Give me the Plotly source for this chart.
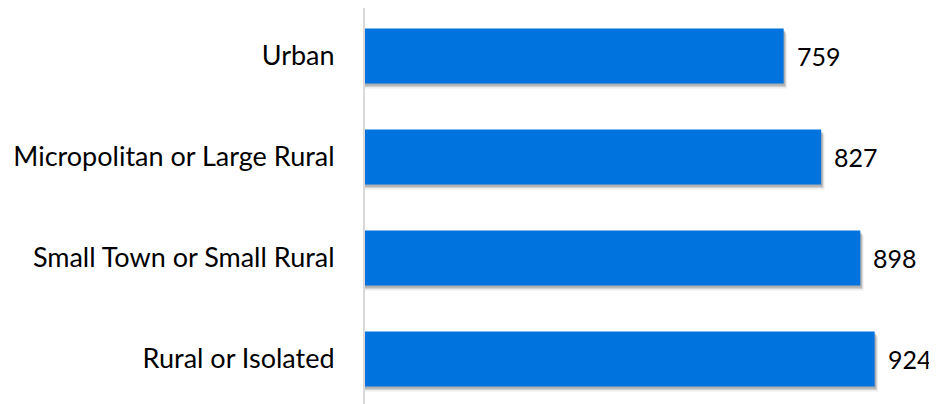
import plotly.graph_objects as go

categories = ["Urban", "Micropolitan or Large Rural", "Small Town or Small Rural", "Rural or Isolated"]
values = [759, 827, 898, 924]

BAR = "#0073DE"
FONT = "Lato"

cats = categories[::-1]
vals = values[::-1]

fig = go.Figure()
# soft shadow layers
for dx, dy, op in [(6, -0.05, 0.10), (4, -0.035, 0.18), (2.5, -0.022, 0.25)]:
    fig.add_trace(go.Bar(
        y=cats, x=[v + dx for v in vals], orientation="h",
        marker=dict(color=f"rgba(80,80,80,{op})", line=dict(width=0)),
        width=0.545, offset=-0.2725 + dy, hoverinfo="skip", showlegend=False,
    ))
fig.add_trace(go.Bar(
    y=cats, x=vals, orientation="h",
    marker=dict(color=BAR, line=dict(width=0)),
    width=0.545, offset=-0.2725, showlegend=False,
))

for c, v in zip(cats, vals):
    fig.add_annotation(x=v, y=c, text=str(v), showarrow=False, xanchor="left",
                       yanchor="middle", xshift=11, font=dict(family=FONT, size=25, color="#000"))

fig.update_layout(
    width=929, height=396, barmode="overlay",
    margin=dict(l=357, r=0, t=0, b=0, autoexpand=False),
    paper_bgcolor="white", plot_bgcolor="white",
    font=dict(family=FONT, size=27, color="#000"),
    xaxis=dict(range=[0, 1037], showgrid=False, zeroline=False, showticklabels=False,
               showline=False, automargin=False),
    yaxis=dict(type="category", categoryorder="array", categoryarray=cats,
               range=[-0.446, 3.475], showgrid=False, zeroline=False,
               showline=True, linecolor="#D9D9D9", linewidth=2, ticks="",
               ticklabelstandoff=23, automargin=False),
)

fig.write_html("out.html")
